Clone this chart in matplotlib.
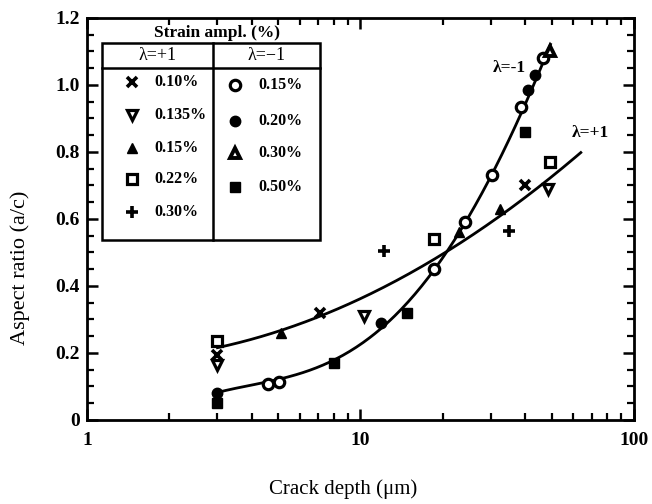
import numpy as np
import matplotlib
matplotlib.use('Agg')
import matplotlib.pyplot as plt
from matplotlib.patches import Rectangle

plt.rcParams['font.family'] = ['Liberation Serif', 'DejaVu Serif']

# lambda = +1 series (crack depth um, aspect ratio)
p010_x = [3.0, 7.1, 40.0]
p010_y = [0.195, 0.32, 0.70]
p0135_x = [3.0, 10.3, 48.5]
p0135_y = [0.165, 0.31, 0.69]
p015_x = [5.1, 23.0, 32.5]
p015_y = [0.26, 0.56, 0.63]
p022_x = [3.0, 18.5, 49.5]
p022_y = [0.235, 0.54, 0.77]
p030_x = [12.2, 35.0]
p030_y = [0.505, 0.565]

# lambda = -1 series
m015_x = [4.6, 5.05, 18.6, 24.2, 30.3, 38.7, 46.3]
m015_y = [0.107, 0.113, 0.45, 0.59, 0.73, 0.935, 1.08]
m020_x = [3.0, 11.9, 40.8, 43.3]
m020_y = [0.08, 0.29, 0.985, 1.03]
m030_x = [49.5]
m030_y = [1.10]
m050_x = [3.0, 8.0, 14.8, 40.0]
m050_y = [0.05, 0.17, 0.32, 0.86]

# fitted curves
curve_p_x = [3.0, 5.1, 7.8, 11.9, 18.2, 27.9, 33.8, 42.4, 53.3, 63.9]
curve_p_y = [0.218, 0.262, 0.322, 0.397, 0.484, 0.558, 0.618, 0.687, 0.746, 0.797]
curve_m_x = [3.0, 4.6, 7.8, 11.9, 14.8, 18.6, 24.5, 30.3, 36.5, 39.0, 45.0, 49.5]
curve_m_y = [0.084, 0.11, 0.173, 0.293, 0.337, 0.448, 0.588, 0.731, 0.875, 0.934, 1.045, 1.11]

y_ticks = [0, 0.2, 0.4, 0.6, 0.8, 1.0, 1.2]
y_tick_labels = ['0', '0.2', '0.4', '0.6', '0.8', '1.0', '1.2']

fig = plt.figure(figsize=(6.52, 5.04), dpi=100)
ax = fig.add_axes([0.1334, 0.1667, 0.839, 0.7976])

def smooth(xs, ys, deg):
    lx = np.log10(xs)
    c = np.polyfit(lx, ys, deg)
    g = np.linspace(lx[0], lx[-1], 200)
    return 10 ** g, np.polyval(c, g)

cx, cy = smooth(curve_p_x, curve_p_y, 3)
ax.plot(cx, cy, color='black', lw=2.0)
cx, cy = smooth(curve_m_x, curve_m_y, 4)
ax.plot(cx, cy, color='black', lw=2.0)

ms = 7.5
open_kw = dict(color='black', markerfacecolor='white', markeredgewidth=2.3, ms=ms, ls='none')
fill_kw = dict(color='black', ms=ms, ls='none')

series = [
    (p010_x, p010_y, 'x', dict(color='black', ms=ms, mew=2.6, ls='none')),
    (p0135_x, p0135_y, 'v', open_kw),
    (p015_x, p015_y, '^', fill_kw),
    (p022_x, p022_y, 's', open_kw),
    (p030_x, p030_y, '+', dict(color='black', ms=ms + 1, mew=2.6, ls='none')),
    (m015_x, m015_y, 'o', open_kw),
    (m020_x, m020_y, 'o', fill_kw),
    (m030_x, m030_y, '^', dict(open_kw, markeredgewidth=2.8)),
    (m050_x, m050_y, 's', fill_kw),
]
for xs, ys, mk, kw in series:
    ax.plot(xs, ys, marker=mk, **kw)

ax.set_xscale('log')
ax.set_xlim(1, 100)
ax.set_ylim(0, 1.2)
ax.set_yticks(y_ticks)
ax.set_yticklabels(y_tick_labels)
ax.set_yticks(np.arange(0, 1.2001, 0.05), minor=True)
ax.set_xticks([1, 10, 100])
ax.set_xticklabels(['1', '10', '100'])

for s in ax.spines.values():
    s.set_linewidth(2.0)
ax.tick_params(which='major', direction='in', top=True, right=True, length=8, width=1.8,
               labelsize=14)
ax.tick_params(which='minor', direction='in', top=True, right=True, length=5, width=1.6)
ax.tick_params(axis='x', which='major', pad=9)
ax.tick_params(axis='y', which='major', pad=5)
for t in ax.get_xticklabels() + ax.get_yticklabels():
    t.set_fontweight('bold')

ax.set_xlabel('Crack depth (μm)', fontsize=15)
ax.set_ylabel('Aspect ratio (a/c)', fontsize=16)
ax.xaxis.set_label_coords(0.468, -0.148)
ax.yaxis.set_label_coords(-0.105, 0.378)

# curve labels
ax.text(35, 1.05, 'λ=-1', fontsize=12.5, fontweight='bold', ha='center', va='center')
ax.text(69, 0.857, 'λ=+1', fontsize=12.5, fontweight='bold', ha='center', va='center')

# legend table
tr = ax.transAxes
x0, x1, xd = 0.027, 0.426, 0.230
yt, yh, yb = 0.938, 0.876, 0.448
ax.add_patch(Rectangle((x0, yb), x1 - x0, yt - yb, transform=tr, fill=False,
                       lw=1.8, ec='black', zorder=5))
ax.plot([x0, x1], [yh, yh], transform=tr, color='black', lw=1.8, zorder=5)
ax.plot([xd, xd], [yb, yt], transform=tr, color='black', lw=1.8, zorder=5)
ax.text(0.238, 0.962, 'Strain ampl. (%)', transform=tr, fontsize=12.5, fontweight='bold',
        ha='center', va='center')
ax.text((x0 + xd) / 2, (yt + yh) / 2, 'λ=+1', transform=tr, fontsize=13,
        ha='center', va='center')
ax.text((xd + x1) / 2, (yt + yh) / 2, 'λ=−1', transform=tr, fontsize=13,
        ha='center', va='center')

left_rows = [0.841, 0.759, 0.677, 0.600, 0.517]
left_labels = ['0.10%', '0.135%', '0.15%', '0.22%', '0.30%']
right_rows = [0.833, 0.744, 0.664, 0.580]
right_labels = ['0.15%', '0.20%', '0.30%', '0.50%']

for (xs, ys, mk, kw), yy, lab in zip(series[:5], left_rows, left_labels):
    ax.plot([0.082], [yy], marker=mk, transform=tr, zorder=6, **kw)
    ax.text(0.124, yy, lab, transform=tr, fontsize=11.5, fontweight='bold', va='center')
for (xs, ys, mk, kw), yy, lab in zip(series[5:], right_rows, right_labels):
    ax.plot([0.271], [yy], marker=mk, transform=tr, zorder=6, **kw)
    ax.text(0.313, yy, lab, transform=tr, fontsize=11.5, fontweight='bold', va='center')

fig.savefig('out.png', dpi=100)
